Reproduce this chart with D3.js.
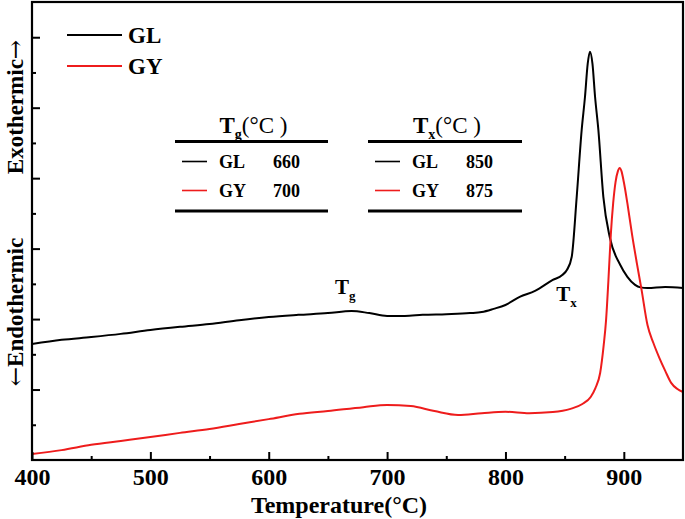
<!DOCTYPE html>
<html><head><meta charset="utf-8">
<script src="https://cdn.jsdelivr.net/npm/d3@7"></script>
<style>
body{margin:0;background:#fff;}
text{font-family:"Liberation Serif","Times New Roman",serif;font-weight:bold;fill:#000;}
</style></head>
<body><svg id="c" width="685" height="519"></svg>
<script>
// Temperatures (°C) and signals (arbitrary units)
const glT = [400,425,450,475,500,525,550,575,600,625,650,670,685,700,715,730,750,770,780,790,800,812,825,840,848,852,856,860.2,864.4,867.2,869.5,871.4,873.5,875.7,878.5,882.7,888.3,896.8,903,909.5,914,920,935,950];
const glV = [3.29,3.41,3.49,3.58,3.69,3.78,3.86,3.97,4.06,4.12,4.17,4.23,4.17,4.09,4.09,4.12,4.14,4.17,4.20,4.29,4.40,4.63,4.80,5.11,5.25,5.40,5.77,7.47,9.37,10.31,11.25,11.59,11.25,10.31,9.37,7.47,6.30,5.55,5.20,4.97,4.90,4.88,4.91,4.88];
const gyT = [400,425,450,475,500,525,550,575,600,626,650,680,700,720,740,760,780,800,820,840,855,865,872,876,880,883,885,887,889,891,893,895,896.5,898,900,903,907,911,915,920,925,930,935,940,945,950];
const gyV = [0.17,0.28,0.43,0.54,0.65,0.77,0.88,1.02,1.16,1.31,1.39,1.50,1.56,1.53,1.39,1.28,1.33,1.37,1.33,1.36,1.45,1.59,1.79,2.04,2.47,3.26,3.97,5.11,6.39,7.29,7.89,8.20,8.29,8.20,7.89,7.29,6.39,5.59,4.83,3.83,3.32,2.90,2.53,2.19,2.02,1.93];
const seriesNames = ["GL","GY"];
const seriesColors = ["#000000","#ee1c1c"];
const xMajor = [400,500,600,700,800,900];
const xMinor = [450,550,650,750,850];
const yMajor = [2,4,6,8,10,12];
const yMinor = [1,3,5,7,9,11];
const tgVals = ["660","700"];
const txVals = ["850","875"];

const svg = d3.select("#c");
const L=32, R=683, T=2, B=460;
const x = d3.scaleLinear().domain([400,950]).range([L,R]);
const y = d3.scaleLinear().domain([0,13]).range([B,T]);

const line = d3.line().x(d=>x(d[0])).y(d=>y(d[1])).curve(d3.curveMonotoneX);
svg.append("path").datum(glT.map((t,i)=>[t,glV[i]])).attr("d",line)
  .attr("fill","none").attr("stroke",seriesColors[0]).attr("stroke-width",2);
svg.append("path").datum(gyT.map((t,i)=>[t,gyV[i]])).attr("d",line)
  .attr("fill","none").attr("stroke",seriesColors[1]).attr("stroke-width",2);

// axes
const xa = svg.append("g").attr("transform",`translate(0,${B})`)
  .call(d3.axisBottom(x).tickValues(xMajor).tickSize(-8).tickPadding(8).tickFormat(d3.format("d")));
svg.append("g").attr("transform",`translate(0,${B})`)
  .call(d3.axisBottom(x).tickValues(xMinor).tickSize(-4).tickFormat(""));
svg.append("g").attr("transform",`translate(${L},0)`)
  .call(d3.axisLeft(y).tickValues(yMajor).tickSize(-8).tickFormat(""));
svg.append("g").attr("transform",`translate(${L},0)`)
  .call(d3.axisLeft(y).tickValues(yMinor).tickSize(-4).tickFormat(""));
svg.selectAll(".domain").remove();
svg.selectAll(".tick line").attr("stroke","#000").attr("stroke-width",2);
xa.selectAll(".tick text").style("font-size","24px").style("font-family","Liberation Serif, serif").style("font-weight","bold").attr("fill","#000");
svg.append("rect").attr("x",L).attr("y",T).attr("width",R-L).attr("height",B-T)
  .attr("fill","none").attr("stroke","#000").attr("stroke-width",2.2);

// axis titles
svg.append("text").attr("x",339).attr("y",513).attr("text-anchor","middle")
  .style("font-size","24px").text("Temperature(°C)");
function vtitle(cy, parts){
  const t = svg.append("text").attr("transform",`translate(23,${cy}) rotate(-90)`).attr("text-anchor","middle")
    .style("font-size","23px");
  parts.forEach(p=>{
    const s = t.append("tspan").text(p.t);
    if(p.arrow) s.style("font-family","DejaVu Serif, serif").style("font-weight","normal").style("font-size","23px");
  });
}
vtitle(312, [{t:"←",arrow:true},{t:"Endothermic"}]);
vtitle(107, [{t:"Exothermic"},{t:"→",arrow:true}]);

// legend
seriesNames.forEach((n,i)=>{
  const yy = 35 + i*31;
  svg.append("line").attr("x1",67).attr("x2",122).attr("y1",yy).attr("y2",yy)
    .attr("stroke",seriesColors[i]).attr("stroke-width",2);
  svg.append("text").attr("x",128).attr("y",yy+8).style("font-size","23px").text(n);
});

// table
function tableBlock(x0, x1, sub, vals){
  const hx = (x0+x1)/2;
  const h = svg.append("text").attr("x",hx-32).attr("y",133).style("font-size","23px");
  h.append("tspan").text("T");
  h.append("tspan").attr("dy",6).style("font-size","14px").text(sub);
  h.append("tspan").attr("dy",-6).style("font-weight","normal").text("(°C )");
  svg.append("line").attr("x1",x0).attr("x2",x1).attr("y1",141.5).attr("y2",141.5).attr("stroke","#000").attr("stroke-width",3);
  svg.append("line").attr("x1",x0).attr("x2",x1).attr("y1",211).attr("y2",211).attr("stroke","#000").attr("stroke-width",3);
  seriesNames.forEach((n,i)=>{
    const yy = 161.5 + i*29;
    svg.append("line").attr("x1",x0+7).attr("x2",x0+32).attr("y1",yy).attr("y2",yy)
      .attr("stroke",seriesColors[i]).attr("stroke-width",1.6);
    svg.append("text").attr("x",x0+44).attr("y",yy+6).style("font-size","18px").text(n);
    svg.append("text").attr("x",x0+98).attr("y",yy+6).style("font-size","18px").text(vals[i]);
  });
}
tableBlock(175, 328, "g", tgVals);
tableBlock(368, 522, "x", txVals);

// Tg / Tx annotations
function ann(t, v, sub){
  const a = svg.append("text").attr("x",x(t)).attr("y",y(v)).style("font-size","21px");
  a.append("tspan").text("T");
  a.append("tspan").attr("dy",6).style("font-size","13px").text(sub);
}
ann(656, 4.70, "g");
ann(843, 4.50, "x");
</script></body></html>
